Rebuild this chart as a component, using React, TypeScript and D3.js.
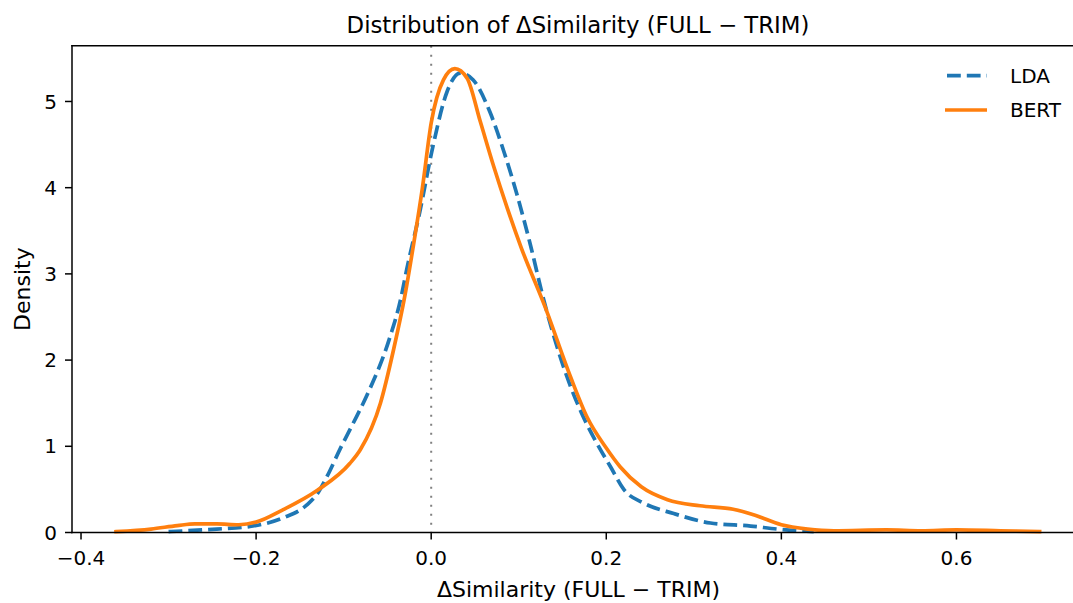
import React from 'react';
import * as d3 from 'd3';

// LDA density curve
const ldaX = [-0.30, -0.245, -0.207, -0.169, -0.142, -0.13, -0.119, -0.104, -0.09, -0.073, -0.047, -0.035, -0.028, -0.013, 0.002, 0.018, 0.033, 0.048, 0.067, 0.083, 0.098, 0.113, 0.128, 0.155, 0.172, 0.189, 0.205, 0.22, 0.243, 0.277, 0.319, 0.365, 0.395, 0.437];
const ldaY = [0.01, 0.04, 0.07, 0.17, 0.32, 0.45, 0.65, 0.97, 1.25, 1.6, 2.27, 2.7, 3.05, 3.72, 4.48, 5.11, 5.33, 5.25, 4.88, 4.42, 3.92, 3.35, 2.72, 1.81, 1.38, 1.04, 0.76, 0.5, 0.34, 0.22, 0.11, 0.075, 0.04, 0.01];

// BERT density curve
const bertX = [-0.36, -0.32, -0.29, -0.27, -0.245, -0.22, -0.2, -0.17, -0.13, -0.093, -0.081, -0.058, -0.043, -0.03, -0.02, -0.01, 0.0, 0.014, 0.027, 0.041, 0.056, 0.071, 0.087, 0.103, 0.13, 0.159, 0.178, 0.2, 0.216, 0.24, 0.27, 0.307, 0.345, 0.37, 0.4, 0.43, 0.46, 0.52, 0.56, 0.6, 0.65, 0.695];
const bertY = [0.01, 0.04, 0.08, 0.1, 0.1, 0.09, 0.12, 0.26, 0.49, 0.8, 0.96, 1.5, 2.12, 2.75, 3.35, 4.0, 4.75, 5.25, 5.38, 5.27, 4.77, 4.26, 3.76, 3.3, 2.62, 1.81, 1.34, 0.98, 0.76, 0.53, 0.38, 0.31, 0.27, 0.2, 0.09, 0.04, 0.02, 0.03, 0.02, 0.03, 0.02, 0.01];

const xTicks = [-0.4, -0.2, 0.0, 0.2, 0.4, 0.6];
const yTicks = [0, 1, 2, 3, 4, 5];

const W = 1073;
const H = 603;
const font = 'DejaVu Sans, sans-serif';

const fmtX = (v: number) => d3.format('.1f')(v).replace('-', '\u2212');

export default function App() {
  const x = d3.scaleLinear().domain([-0.4103, 0.7457]).range([72, 1084]);
  const y = d3.scaleLinear().domain([0, 5.647]).range([532.5, 45.7]);

  const line = d3.line<[number, number]>()
    .x(d => x(d[0]))
    .y(d => y(d[1]))
    .curve(d3.curveMonotoneX);

  const lda = ldaX.map((v, i) => [v, ldaY[i]] as [number, number]);
  const bert = bertX.map((v, i) => [v, bertY[i]] as [number, number]);

  const [x0, x1] = x.range();
  const [y0, y1] = y.range();

  return (
    <svg width={W} height={H} style={{ position: 'absolute', left: 0, top: 0, background: '#fff' }} fontFamily={font}>
      <rect width={W} height={H} fill="#fff" />

      {/* zero reference line */}
      <line x1={x(0)} x2={x(0)} y1={y1} y2={y0} stroke="#808080" strokeWidth={2} strokeDasharray="2 7" />

      <path d={line(lda) ?? ''} fill="none" stroke="#1f77b4" strokeWidth={3.7} strokeDasharray="13.8 6" />
      <path d={line(bert) ?? ''} fill="none" stroke="#ff7f0e" strokeWidth={3.7} strokeLinecap="square" />

      {/* spines */}
      <line x1={x0} x2={x0} y1={y1} y2={y0} stroke="#000" strokeWidth={1.5} strokeLinecap="square" />
      <line x1={x0} x2={x1} y1={y0} y2={y0} stroke="#000" strokeWidth={1.5} strokeLinecap="square" />
      <line x1={x0} x2={x1} y1={y1} y2={y1} stroke="#000" strokeWidth={1.5} strokeLinecap="square" />
      <line x1={x1} x2={x1} y1={y1} y2={y0} stroke="#000" strokeWidth={1.5} />

      {/* x ticks */}
      {xTicks.map(t => (
        <g key={t} transform={`translate(${x(t)},${y0})`}>
          <line y2={7} stroke="#000" strokeWidth={1.5} />
          <text y={32} textAnchor="middle" fontSize={20} fill="#000">{fmtX(t)}</text>
        </g>
      ))}

      {/* y ticks */}
      {yTicks.map(t => (
        <g key={t} transform={`translate(${x0},${y(t)})`}>
          <line x2={-7} stroke="#000" strokeWidth={1.5} />
          <text x={-15} dy="0.36em" textAnchor="end" fontSize={20} fill="#000">{t}</text>
        </g>
      ))}

      <text x={(x0 + x1) / 2} y={33} textAnchor="middle" fontSize={22.8} fill="#000">
        Distribution of ΔSimilarity (FULL − TRIM)
      </text>
      <text x={578.5} y={597} textAnchor="middle" fontSize={22} fill="#000">
        ΔSimilarity (FULL − TRIM)
      </text>
      <text transform={`translate(30,${(y0 + y1) / 2}) rotate(-90)`} textAnchor="middle" fontSize={22} fill="#000">
        Density
      </text>

      {/* legend */}
      <g>
        <line x1={947} x2={987} y1={75.7} y2={75.7} stroke="#1f77b4" strokeWidth={3.7} strokeDasharray="13.8 6" />
        <text x={1010} y={75.7} dy="0.36em" fontSize={20} fill="#000">LDA</text>
        <line x1={945} x2={987} y1={110} y2={110} stroke="#ff7f0e" strokeWidth={3.7} />
        <text x={1010} y={110} dy="0.36em" fontSize={20} fill="#000">BERT</text>
      </g>
    </svg>
  );
}
